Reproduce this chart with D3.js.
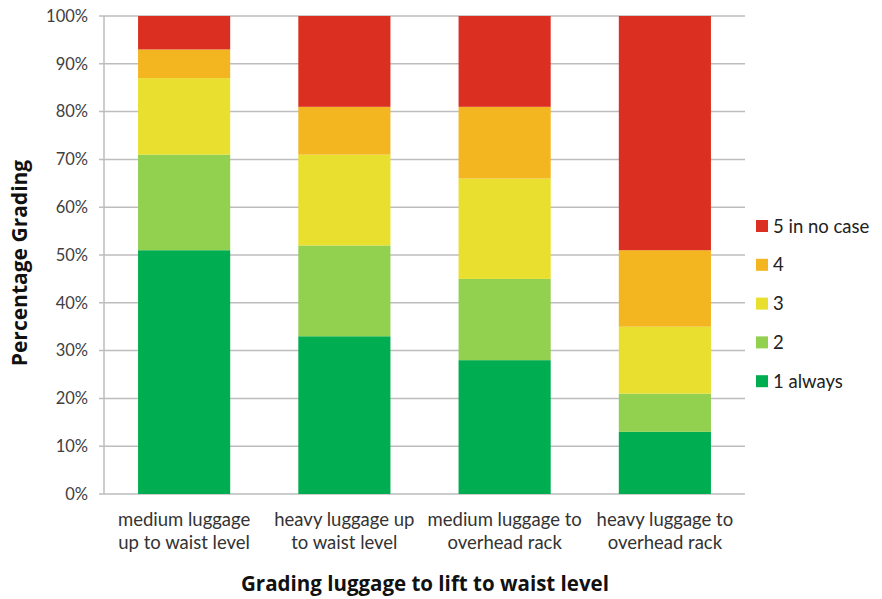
<!DOCTYPE html>
<html>
<head>
<meta charset="utf-8">
<script src="https://cdn.jsdelivr.net/npm/d3@7"></script>
<style>
  html, body { margin: 0; padding: 0; background: #fff; }
  svg { display: block; }
  text { font-family: Lato, "Open Sans", sans-serif; }
  text.title { font-family: "Open Sans", sans-serif; font-weight: bold; }
</style>
</head>
<body>
<svg id="chart" width="882" height="599"></svg>
<script>
// Categories (two-line labels)
const categories = [
  ["medium luggage", "up to waist level"],
  ["heavy luggage up", "to waist level"],
  ["medium luggage to", "overhead rack"],
  ["heavy luggage to", "overhead rack"]
];
// Percentage of answers per grade, stacked bottom to top
const grade1 = [51, 33, 28, 13];
const grade2 = [20, 19, 17, 8];
const grade3 = [16, 19, 21, 14];
const grade4 = [6, 10, 15, 16];
const grade5 = [7, 19, 19, 49];

const seriesNames = ["1 always", "2", "3", "4", "5 in no case"];
const seriesColors = ["#00ad50", "#92d050", "#e8df2e", "#f4b620", "#db3021"];
const yTicks = [0, 10, 20, 30, 40, 50, 60, 70, 80, 90, 100];

const svg = d3.select("#chart");
const margin = { left: 104, right: 137, top: 16, bottom: 105 };
const W = 882, H = 599;
const x0 = margin.left, x1 = W - margin.right, y0 = H - margin.bottom, y1 = margin.top;

const keys = categories.map((c, i) => "c" + i);
const x = d3.scaleBand().domain(keys).range([x0, x1]).paddingInner(0.425).paddingOuter(0.2125);
const y = d3.scaleLinear().domain([0, 100]).range([y0, y1]);

// Table of rows for d3.stack
const table = keys.map((k, i) => ({
  key: k,
  s0: grade1[i], s1: grade2[i], s2: grade3[i], s3: grade4[i], s4: grade5[i]
}));
const stacked = d3.stack().keys(["s0", "s1", "s2", "s3", "s4"])(table);

// Gridlines
svg.append("g")
  .selectAll("line")
  .data(yTicks)
  .join("line")
  .attr("x1", x0 - 5).attr("x2", x1)
  .attr("y1", d => y(d)).attr("y2", d => y(d))
  .attr("stroke", "#bdbdbd").attr("stroke-width", 1.5);

// Y axis line
svg.append("line")
  .attr("x1", x0).attr("x2", x0).attr("y1", y1).attr("y2", y0)
  .attr("stroke", "#bdbdbd").attr("stroke-width", 1.5);

// Y tick labels
const yAxis = d3.axisLeft(y).tickValues(yTicks).tickFormat(d => d + "%").tickSize(0).tickPadding(16);
const gy = svg.append("g").attr("transform", `translate(${x0},0)`).call(yAxis);
gy.select(".domain").remove();
gy.selectAll("text").attr("font-size", 16.5).attr("fill", "#404040")
  .style("font-family", "Lato, 'Open Sans', sans-serif");

// Bars
svg.append("g")
  .selectAll("g")
  .data(stacked)
  .join("g")
  .attr("fill", (d, i) => seriesColors[i])
  .selectAll("rect")
  .data(d => d)
  .join("rect")
  .attr("x", d => x(d.data.key))
  .attr("width", x.bandwidth())
  .attr("y", d => y(d[1]))
  .attr("height", d => y(d[0]) - y(d[1]));

// X category labels
const xl = svg.append("g");
categories.forEach((lines, i) => {
  const cx = x(keys[i]) + x.bandwidth() / 2;
  const t = xl.append("text").attr("text-anchor", "middle")
    .attr("font-size", 18.5).attr("fill", "#333");
  lines.forEach((ln, j) => {
    t.append("tspan").attr("x", cx).attr("y", 526 + j * 23).text(ln);
  });
});

// Axis titles
svg.append("text").attr("class", "title")
  .attr("transform", `translate(27,${(y0 + y1) / 2 + 8}) rotate(-90)`)
  .attr("text-anchor", "middle")
  .attr("font-size", 21).attr("fill", "#111")
  .text("Percentage Grading");

svg.append("text").attr("class", "title")
  .attr("x", 425).attr("y", 591)
  .attr("text-anchor", "middle")
  .attr("font-size", 20.5).attr("fill", "#111")
  .text("Grading luggage to lift to waist level");

// Legend, top entry is the top stack segment
const legendOrder = [4, 3, 2, 1, 0];
const lg = svg.append("g");
legendOrder.forEach((si, j) => {
  const ly = 226 + j * 38.8;
  lg.append("rect").attr("x", 756).attr("y", ly - 6).attr("width", 12).attr("height", 12)
    .attr("fill", seriesColors[si]);
  lg.append("text").attr("x", 773).attr("y", ly).attr("dy", "0.36em")
    .attr("font-size", 18.5).attr("fill", "#222").text(seriesNames[si]);
});
</script>
</body>
</html>
